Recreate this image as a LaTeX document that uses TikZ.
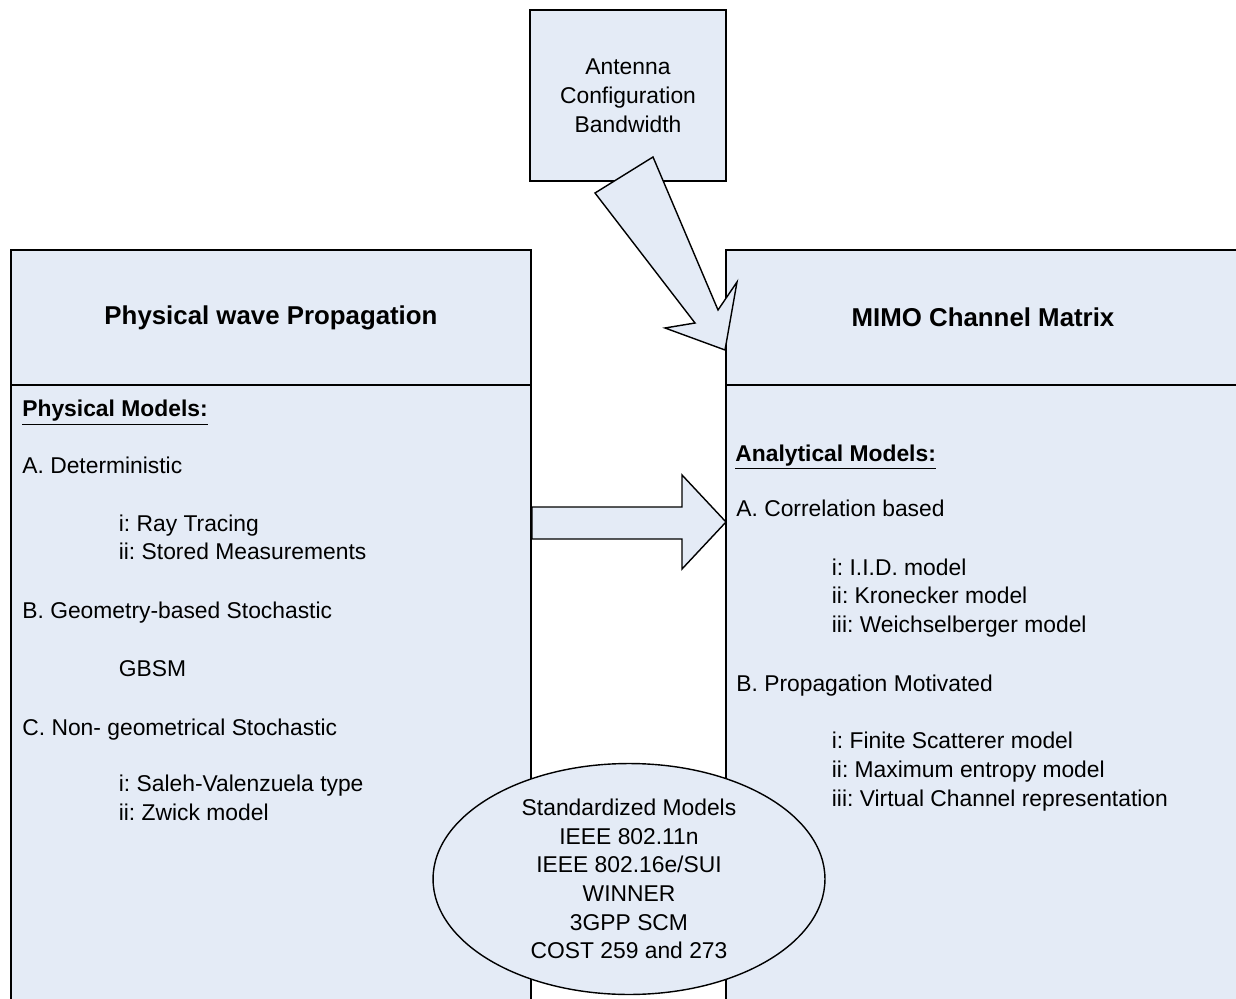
\documentclass[tikz,border=0pt]{standalone}
\usepackage{fontspec}
\setmainfont{Liberation Sans}
\usetikzlibrary{shapes.geometric,positioning}
\frenchspacing

\definecolor{panelfill}{RGB}{228,235,246}

\tikzset{
  panel/.style={draw, fill=panelfill, line width=0.8pt, inner sep=0pt, outer sep=0pt},
  heading/.style={font=\fontsize{14.7}{17}\selectfont\bfseries},
  item/.style={anchor=base west, inner sep=0pt, font=\fontsize{13}{16.4}\selectfont},
  itemhead/.style={item, font=\fontsize{13}{16.4}\selectfont\bfseries},
  blockarrow/.style={draw, fill=panelfill, line width=0.8pt, line join=miter},
}

\begin{document}
\begin{tikzpicture}[x=0.02cm, y=-0.02cm]
  \clip (0,0) rectangle (1236,999);
  \fill[white] (0,0) rectangle (1236,999);

  % the two panels
  \node[panel, heading, minimum width=10.4cm, minimum height=2.7cm] (physhead) at (271,317.5) {Physical wave Propagation};
  \node[panel, anchor=north, minimum width=10.4cm, minimum height=12.9cm] (physbody) at (physhead.south) {};
  \node[panel, heading, minimum width=10.28cm, minimum height=2.7cm] (mimohead) at (983,317.5) {MIMO Channel Matrix};
  \node[panel, anchor=north, minimum width=10.28cm, minimum height=12.9cm] (mimobody) at (mimohead.south) {};

  % antenna box
  \node[panel, align=center, font=\fontsize{13}{16.4}\selectfont,
        minimum width=3.92cm, minimum height=3.42cm] (antenna) at (628,95.5)
        {Antenna\\Configuration\\Bandwidth};

  % block arrows
  \draw[blockarrow] (653,157) -- (718,310) -- (737,282) -- (725,350)
                    -- (665,328) -- (695,323) -- (595,193) -- cycle;
  \draw[blockarrow] (532,507) -- (682,507) -- (682,475) -- (726,522)
                    -- (682,569) -- (682,539) -- (532,539) -- cycle;

  % standardized models
  \node[panel, ellipse, align=center, font=\fontsize{13}{16.3}\selectfont,
        minimum width=7.84cm, minimum height=4.62cm] (standard) at (629,879)
        {Standardized Models\\IEEE 802.11n\\IEEE 802.16e/SUI\\WINNER\\3GPP SCM\\COST 259 and 273};

  % physical models
  \node[itemhead] (physlabel) at (22,417) {\underline{Physical Models:}};
  \node[item] (physa)  at (22,474)    {A. Deterministic};
  \node[item] (physa1) at (118.5,531) {i: Ray Tracing};
  \node[item] (physa2) at (118.5,559) {ii: Stored Measurements};
  \node[item] (physb)  at (22,618)    {B. Geometry-based Stochastic};
  \node[item] (physb1) at (118.5,676) {GBSM};
  \node[item] (physc)  at (22,735)    {C. Non- geometrical Stochastic};
  \node[item] (physc1) at (118.5,791) {i: Saleh-Valenzuela type};
  \node[item] (physc2) at (118.5,820) {ii: Zwick model};

  % analytical models
  \node[itemhead] (analabel) at (735,461) {\underline{Analytical Models:}};
  \node[item] (anaa)  at (736,517)    {A. Correlation based};
  \node[item] (anaa1) at (831.5,575)  {i: I.I.D. model};
  \node[item] (anaa2) at (831.5,603)  {ii: Kronecker model};
  \node[item] (anaa3) at (831.5,632)  {iii: Weichselberger model};
  \node[item] (anab)  at (736,691)    {B. Propagation Motivated};
  \node[item] (anab1) at (831.5,748)  {i: Finite Scatterer model};
  \node[item] (anab2) at (831.5,777)  {ii: Maximum entropy model};
  \node[item] (anab3) at (831.5,806)  {iii: Virtual Channel representation};
\end{tikzpicture}
\end{document}
